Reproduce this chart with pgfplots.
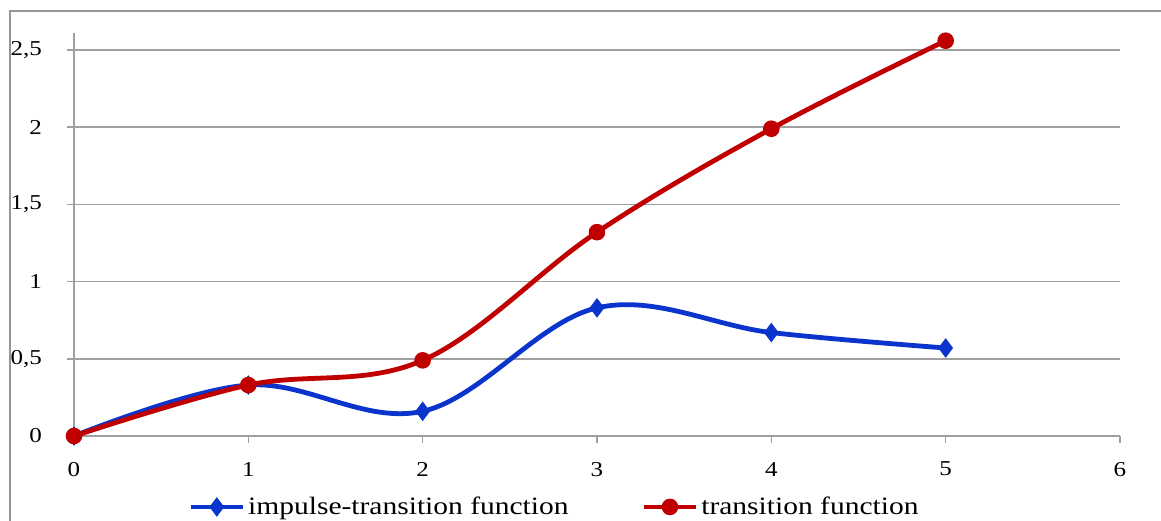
\documentclass[border=0pt]{standalone}
\usepackage{fontspec}
\setmainfont{Liberation Serif}[FakeStretch=1.18]
\usepackage{pgfplots}
\pgfplotsset{compat=1.18}

\definecolor{impblue}{RGB}{10,52,204}
\definecolor{trred}{RGB}{192,0,0}
\definecolor{gridgray}{RGB}{160,160,160}
\definecolor{framegray}{RGB}{150,150,150}

\pgfplotstableread{
x  imp   tr
0  0     0
1  0.33  0.33
2  0.16  0.49
3  0.83  1.32
4  0.67  1.99
5  0.57  2.56
}\responses

\newcommand{\tickfont}{\fontsize{10.6}{13}\selectfont}
\newcommand{\legendfont}{\fontsize{12.5}{14}\selectfont}

\begin{document}
\begin{tikzpicture}
\useasboundingbox (-37pt,-42pt) rectangle (543.5pt,218pt);
\draw[framegray, line width=0.6pt] (-32pt,-60pt) rectangle (560pt,212.5pt);
\begin{axis}[
  at={(0,0)}, anchor=south west,
  scale only axis, width=523pt, height=201.5pt,
  xmin=0, xmax=6, ymin=0, ymax=2.61,
  xtick={0,1,2,3,4,5,6},
  ytick={0,0.5,1,1.5,2,2.5},
  axis x line*=bottom, axis y line*=left,
  axis line style={gridgray, line width=0.75pt, -},
  tick style={gridgray, line width=0.75pt},
  major tick length=3.5pt, tick align=outside,
  ymajorgrids, grid style={gridgray, line width=0.75pt},
  /pgf/number format/use comma,
  /pgf/number format/assume math mode=true,
  every tick label/.append style={font=\tickfont, text=black},
  yticklabel style={xshift=-9pt},
  xticklabel style={yshift=-6pt},
  legend style={at={(0.109,-0.176)}, anchor=west, draw=none, fill=none,
    inner sep=0pt, font=\legendfont, text=black,
    legend columns=2,
    /tikz/every even column/.append style={column sep=35pt},
    /tikz/every odd column/.append style={column sep=0pt},
    nodes={inner sep=1.5pt}},
  legend image code/.code={\draw[mark repeat=2, mark phase=2, #1]
    plot coordinates {(0pt,0pt) (13pt,0pt) (26pt,0pt)};},
]
\addplot[impblue, line width=2.4pt, smooth, tension=0.6,
  mark=diamond*, mark size=4.5pt,
  mark options={solid, fill=impblue, line width=0.5pt}]
  table[x=x, y=imp] {\responses};
\addlegendentry{impulse-transition function}
\addplot[trred, line width=2.4pt, smooth, tension=0.6,
  mark=*, mark size=3.9pt,
  mark options={solid, fill=trred, line width=0.5pt}]
  table[x=x, y=tr] {\responses};
\addlegendentry{transition function}
\end{axis}
\end{tikzpicture}
\end{document}
